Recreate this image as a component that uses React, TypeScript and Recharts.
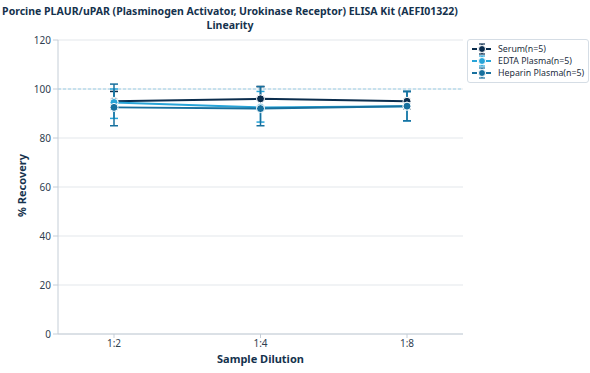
import React from 'react';
import {
  LineChart,
  Line,
  XAxis,
  YAxis,
  CartesianGrid,
  ReferenceLine,
  ErrorBar,
} from 'recharts';

const dilutions = ['1:2', '1:4', '1:8'];
const serum = [95, 96, 95];
const serumErr = [[3, 4], [4, 5], [3, 4]];
const edta = [94.5, 92.5, 93];
const edtaErr = [[6.5, 5.5], [6, 6.5], [6, 6]];
const heparin = [92.5, 92, 93];
const heparinErr = [[7.5, 9.5], [7, 9], [6, 6]];
const yTicks = [0, 20, 40, 60, 80, 100, 120];

const series = [
  { key: 'serum', name: 'Serum(n=5)', color: '#0b2d4d' },
  { key: 'edta', name: 'EDTA Plasma(n=5)', color: '#27a4d8' },
  { key: 'heparin', name: 'Heparin Plasma(n=5)', color: '#17709e' },
];

const data = dilutions.map((d, i) => ({
  name: d,
  serum: serum[i],
  serumErr: serumErr[i],
  edta: edta[i],
  edtaErr: edtaErr[i],
  heparin: heparin[i],
  heparinErr: heparinErr[i],
}));

const font = '"Noto Sans", "Open Sans", sans-serif';

const LegendBox = () => (
  <div
    style={{
      position: 'absolute',
      left: 467,
      top: 39,
      border: '1px solid #d5dde5',
      borderRadius: 3,
      padding: '3px 4px 3px 3px',
      background: '#fff',
      fontFamily: font,
      fontSize: 8.8,
      color: '#1c2e40',
      whiteSpace: 'nowrap',
    }}
  >
    {series.map((s) => (
      <div key={s.key} style={{ display: 'flex', alignItems: 'center', height: 12 }}>
        <svg width={22} height={12} style={{ marginRight: 5 }}>
          <line x1={1} y1={6} x2={21} y2={6} stroke={s.color} strokeWidth={2} strokeDasharray="5 2" />
          <line x1={11} y1={1} x2={11} y2={11} stroke={s.color} strokeWidth={1.2} />
          <line x1={8} y1={1} x2={14} y2={1} stroke={s.color} strokeWidth={1.2} />
          <line x1={8} y1={11} x2={14} y2={11} stroke={s.color} strokeWidth={1.2} />
          <circle cx={11} cy={6} r={3.5} fill={s.color} stroke="#fff" strokeWidth={1} />
        </svg>
        <span>{s.name}</span>
      </div>
    ))}
  </div>
);

export default function App() {
  return (
    <div style={{ position: 'absolute', left: 0, top: 0, width: 590, height: 373, background: '#fff', fontFamily: font }}>
      <LineChart
        width={590}
        height={373}
        data={data}
        margin={{ top: 40, right: 127, bottom: 0, left: 0 }}
        style={{ position: 'absolute', left: 0, top: 0 }}
      >
        <CartesianGrid vertical={false} stroke="#e3e7eb" />
        <XAxis
          dataKey="name"
          height={39}
          padding={{ left: 56, right: 56 }}
          stroke="#c5ced7"
          tick={{ fill: '#2f4050', fontSize: 10, fontFamily: font }}
          tickSize={4}
          label={{ value: 'Sample Dilution', position: 'insideBottom', offset: 10, fill: '#15324d', fontSize: 11, fontWeight: 700, fontFamily: font }}
        />
        <YAxis
          width={58}
          domain={[0, 120]}
          ticks={yTicks}
          stroke="#c5ced7"
          tick={{ fill: '#2f4050', fontSize: 10, fontFamily: font }}
          tickSize={5}
          label={{ value: '% Recovery', angle: -90, position: 'insideLeft', offset: 22, dy: 30, fill: '#15324d', fontSize: 11, fontWeight: 700, fontFamily: font }}
        />
        <ReferenceLine y={100} stroke="#9ccfe6" strokeDasharray="3 2" />
        {series.map((s) => (
          <Line
            key={s.key}
            dataKey={s.key}
            name={s.name}
            stroke={s.color}
            strokeWidth={2}
            dot={{ r: 4, fill: s.color, stroke: '#fff', strokeWidth: 1 }}
            isAnimationActive={false}
          >
            <ErrorBar dataKey={`${s.key}Err`} width={4} stroke={s.color} strokeWidth={1.5} />
          </Line>
        ))}
      </LineChart>
      <div
        style={{
          position: 'absolute',
          left: 230,
          top: 4,
          transform: 'translateX(-50%)',
          whiteSpace: 'nowrap',
          textAlign: 'center',
          fontWeight: 700,
          fontSize: 10.5,
          lineHeight: '14px',
          color: '#15324d',
        }}
      >
        Porcine PLAUR/uPAR (Plasminogen Activator, Urokinase Receptor) ELISA Kit (AEFI01322)
        <br />
        Linearity
      </div>
      <LegendBox />
    </div>
  );
}
